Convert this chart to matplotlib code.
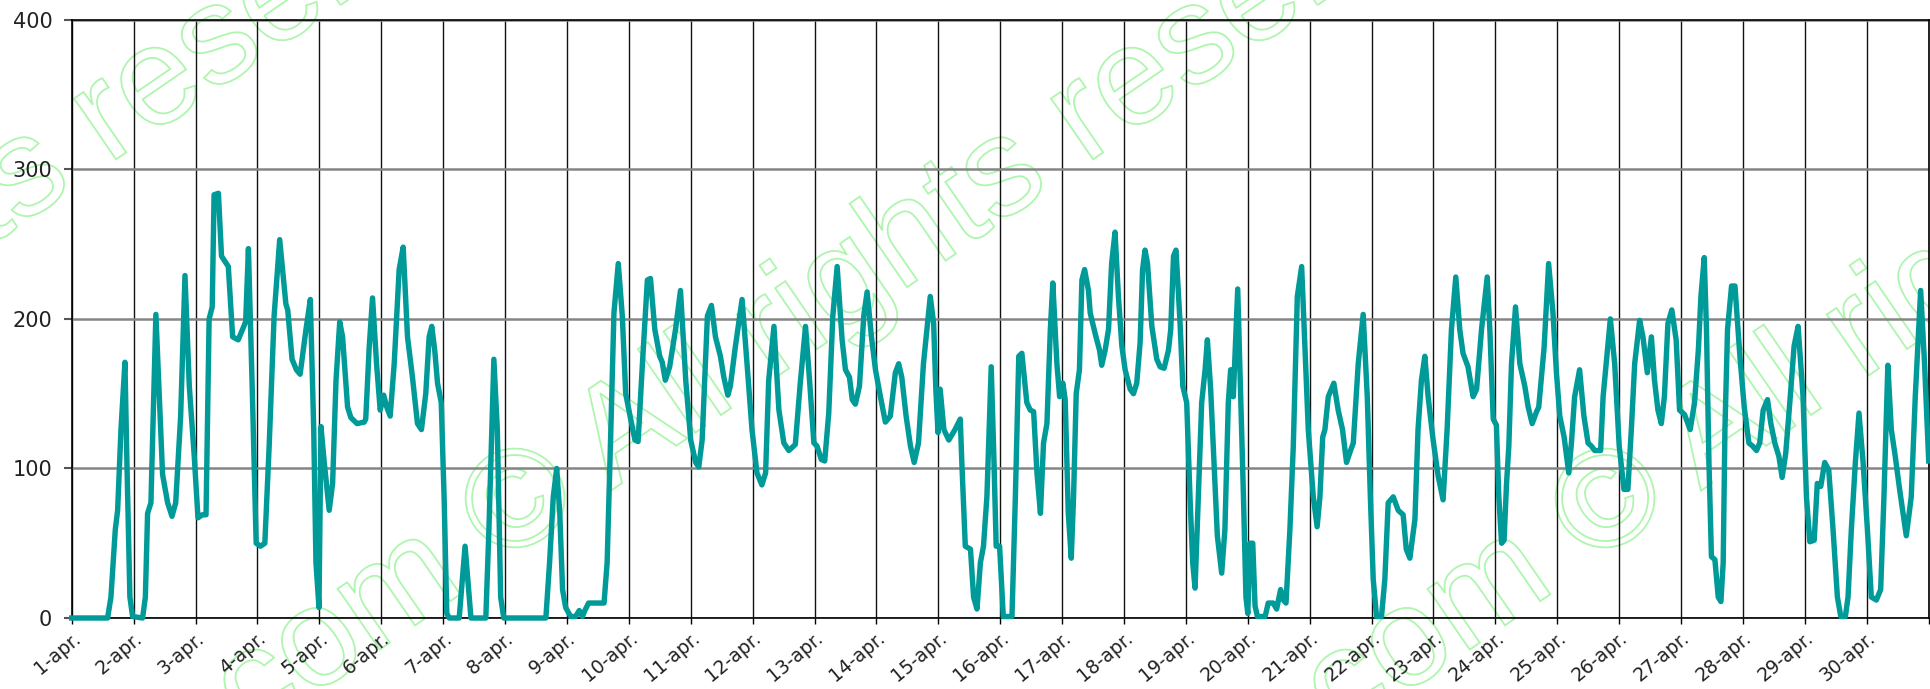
import matplotlib
matplotlib.use("Agg")
import matplotlib.pyplot as plt
from matplotlib.patches import PathPatch
from matplotlib.textpath import TextPath
from matplotlib.font_manager import FontProperties
from matplotlib.transforms import Affine2D, IdentityTransform

# curve vertices; t = days since 1 april 00:00
t_week1 = [0.00, 0.58, 0.634, 0.704, 0.742, 0.796, 0.86, 0.892, 0.94, 0.984,
           1.145, 1.19, 1.226, 1.28, 1.36, 1.468, 1.55, 1.62, 1.68, 1.76, 1.83, 1.90, 1.98,
           2.04, 2.11, 2.17, 2.22, 2.27, 2.30, 2.37, 2.42, 2.53, 2.60, 2.69, 2.76, 2.81, 2.855, 2.92, 2.98,
           3.05, 3.12, 3.19, 3.27, 3.36, 3.46, 3.49, 3.56, 3.63, 3.69, 3.785, 3.855, 3.91, 3.946, 3.995,
           4.027, 4.08, 4.16, 4.215, 4.27, 4.33, 4.376, 4.457, 4.51, 4.61, 4.726, 4.75, 4.806, 4.86, 4.925, 4.984,
           5.04, 5.09, 5.145, 5.21, 5.29, 5.355, 5.425, 5.505, 5.586, 5.65, 5.72, 5.774, 5.817, 5.865, 5.91, 5.97,
           6.016, 6.06, 6.10, 6.26, 6.355, 6.45, 6.69, 6.74, 6.82, 6.876, 6.93, 6.98]
v_week1 = [0, 0, 14, 59, 72, 126, 171, 104, 14, 1,
           0, 14, 70, 77, 203, 96, 77, 68, 77, 135, 229, 155, 108,
           67, 69, 69, 200, 208, 283, 284, 242, 235, 188, 186, 193, 198, 247, 148, 50,
           48, 50, 115, 202, 253, 210, 206, 173, 166, 163, 193, 213, 126, 37, 7,
           128, 104, 72, 90, 159, 198, 188, 141, 134, 130, 131, 133, 181, 214, 170, 139,
           149, 141, 135, 170, 233, 248, 188, 161, 130, 126, 150, 188, 195, 179, 157, 144,
           81, 3, 0, 0, 48, 0, 0, 59, 173, 126, 14, 0]

t_week2 = [7.66, 7.72, 7.78, 7.835, 7.885, 7.93, 7.98, 8.06, 8.14, 8.20, 8.25, 8.29, 8.35, 8.60, 8.65, 8.71, 8.76, 8.83, 8.895, 8.95,
           9.03, 9.10, 9.15, 9.22, 9.30, 9.35, 9.42, 9.50, 9.54, 9.59, 9.66, 9.755, 9.835, 9.92,
           10.00, 10.08, 10.13, 10.185, 10.27, 10.335, 10.40, 10.48, 10.535, 10.60, 10.64, 10.72, 10.83, 10.91, 10.99,
           11.07, 11.15, 11.21, 11.26, 11.345, 11.425, 11.505, 11.585, 11.69, 11.77, 11.855, 11.92, 11.99,
           12.04, 12.11, 12.165, 12.23, 12.296, 12.366, 12.446, 12.50, 12.565, 12.61, 12.66, 12.726, 12.796, 12.85, 12.92, 12.985,
           13.065, 13.145, 13.225, 13.306, 13.36, 13.41, 13.48, 13.55, 13.61, 13.68, 13.76, 13.87, 13.925, 13.96, 13.995]
v_week2 = [0, 37, 81, 100, 70, 19, 7, 1, 1, 5, 1, 5, 10, 10, 37, 126, 204, 237, 202, 150,
           133, 119, 118, 170, 226, 227, 193, 175, 171, 159, 168, 193, 219, 159,
           119, 104, 101, 119, 202, 209, 188, 175, 161, 149, 155, 181, 213, 170, 126,
           97, 89, 97, 159, 195, 139, 117, 112, 116, 157, 195, 159, 117,
           115, 106, 105, 137, 202, 235, 186, 166, 161, 146, 143, 155, 202, 218, 188, 166,
           148, 131, 135, 164, 170, 161, 135, 115, 104, 117, 170, 215, 197, 153, 124]

t_week3 = [14.03, 14.09, 14.17, 14.27, 14.355, 14.38, 14.436, 14.52, 14.57, 14.625, 14.68, 14.73, 14.785, 14.855, 14.9, 14.935, 14.99, 15.05,
           15.19, 15.245, 15.30, 15.35, 15.43, 15.486, 15.54, 15.594, 15.65, 15.70, 15.755, 15.81, 15.85, 15.916, 15.96,
           16.013, 16.05, 16.10, 16.148, 16.185, 16.228, 16.28, 16.32, 16.363, 16.426, 16.454, 16.535, 16.605, 16.64, 16.695, 16.75, 16.80, 16.855, 16.91, 16.965,
           17.018, 17.10, 17.153, 17.206, 17.26, 17.30, 17.34, 17.38, 17.45, 17.53, 17.583, 17.648, 17.718, 17.755, 17.80, 17.84, 17.906, 17.95,
           18.013, 18.066, 18.11, 18.148, 18.20, 18.255, 18.31, 18.347, 18.40, 18.454, 18.508, 18.578, 18.63, 18.685, 18.723, 18.766, 18.837, 18.886, 18.93, 18.97,
           19.0, 19.036, 19.08, 19.117, 19.155, 19.28, 19.33, 19.41, 19.466, 19.53, 19.574, 19.617, 19.68, 19.735, 19.80, 19.87, 19.923, 19.977,
           20.058, 20.12, 20.165, 20.21, 20.246, 20.30, 20.39, 20.46, 20.53, 20.595, 20.66, 20.704, 20.784, 20.864, 20.93, 20.98]
v_week3 = [153, 126, 119, 126, 133, 104, 48, 46, 14, 6, 37, 48, 81, 168, 104, 48, 48, 1,
           1, 81, 175, 177, 144, 139, 138, 97, 70, 117, 130, 193, 224, 170, 148,
           157, 146, 70, 40, 81, 150, 166, 226, 233, 219, 204, 190, 179, 169, 179, 193, 237, 258, 215, 182,
           166, 153, 150, 157, 184, 233, 246, 237, 195, 173, 168, 167, 179, 193, 242, 246, 197, 155,
           144, 81, 37, 20, 81, 144, 166, 186, 153, 104, 55, 30, 59, 144, 166, 148, 220, 148, 81, 14,
           3, 50, 50, 8, 1, 1, 10, 10, 6, 19, 12, 10, 59, 115, 215, 235, 181, 126,
           81, 61, 81, 121, 126, 148, 157, 139, 126, 104, 112, 117, 170, 203, 148, 81]

t_week4 = [21.026, 21.08, 21.16, 21.214, 21.268, 21.35, 21.43, 21.51, 21.56, 21.618, 21.70, 21.75, 21.805, 21.86, 21.913, 21.994,
           22.075, 22.155, 22.22, 22.29, 22.36, 22.424, 22.477, 22.557, 22.64, 22.696, 22.776, 22.868, 22.91, 22.965,
           23.016, 23.055, 23.10, 23.14, 23.18, 23.217, 23.26, 23.325, 23.395, 23.475, 23.53, 23.594, 23.665, 23.70, 23.787, 23.86, 23.93, 23.986,
           24.04, 24.11, 24.185, 24.228, 24.28, 24.36, 24.43, 24.497, 24.55, 24.605, 24.70, 24.74, 24.79, 24.857, 24.927,
           25.0, 25.077, 25.14, 25.196, 25.25, 25.33, 25.384, 25.454, 25.52, 25.57, 25.626, 25.68, 25.73, 25.787, 25.85, 25.92, 25.975,
           26.056, 26.147, 26.217, 26.28, 26.32, 26.374, 26.41, 26.45, 26.49, 26.546, 26.60, 26.643, 26.68, 26.708, 26.75, 26.815, 26.87, 26.95,
           27.02, 27.095, 27.154, 27.218, 27.27, 27.326, 27.396, 27.45, 27.514, 27.58, 27.632, 27.69, 27.756, 27.826, 27.89, 27.97,
           28.025, 28.08, 28.15, 28.20, 28.256, 28.32, 28.385, 28.455, 28.525, 28.58, 28.654, 28.697, 28.75, 28.815, 28.874, 28.94,
           29.01, 29.073, 29.154, 29.224, 29.277, 29.34, 29.396, 29.46, 29.53, 29.638, 29.718, 29.783, 29.87, 29.933, 30.0]
v_week4 = [26, 1, 1, 26, 77, 81, 72, 69, 46, 40, 66, 126, 159, 175, 148, 119,
           95, 79, 126, 193, 228, 193, 177, 168, 148, 153, 193, 228, 193, 133,
           129, 81, 50, 52, 90, 115, 170, 208, 170, 155, 141, 130, 138, 141, 181, 237, 204, 164,
           135, 121, 97, 117, 148, 166, 135, 117, 115, 112, 112, 148, 170, 200, 170,
           115, 86, 86, 126, 170, 199, 188, 164, 188, 159, 139, 130, 148, 197, 206, 186, 139,
           136, 126, 144, 180, 215, 241, 193, 104, 41, 39, 14, 11, 37, 126, 193, 222, 222, 175,
           141, 117, 115, 112, 117, 139, 146, 130, 117, 108, 94, 110, 144, 182, 195, 148,
           81, 51, 52, 90, 88, 104, 99, 59, 14, 1, 1, 14, 59, 104, 137, 104,
           59, 14, 12, 19, 81, 169, 126, 108, 86, 55, 81, 148, 219, 170, 105]

day_labels = [f"{d}-apr." for d in range(1, 31)]
y_ticks = [0, 100, 200, 300, 400]
watermark = ".com © All rights reserved"

W, H = 1931, 689


def add_watermark(fig, text, cx, cy, size=140, angle=34.5):
    # outlined text, positioned by the centre of its © sign (pixels, y from top)
    fp = FontProperties(family="Liberation Sans")
    full = TextPath((0, 0), text, size=size, prop=fp)
    head = TextPath((0, 0), text[:text.index("©") + 1], size=size, prop=fp)
    sym = TextPath((0, 0), "©", size=size, prop=fp).get_extents()
    x0 = head.get_extents().x1 - sym.width / 2
    y0 = (sym.y0 + sym.y1) / 2
    tr = Affine2D().translate(-x0, -y0).rotate_deg(angle).translate(cx, H - cy)
    patch = PathPatch(tr.transform_path(full), facecolor="none", edgecolor="#aef5ae",
                      lw=1.3, transform=IdentityTransform(), zorder=-5)
    fig.add_artist(patch)


plt.rcParams["font.family"] = "DejaVu Sans"
fig = plt.figure(figsize=(W / 100, H / 100), dpi=100)
fig.patch.set_facecolor("white")

for cx in (-462, 515, 1605):
    add_watermark(fig, watermark, cx, 498)

ax = fig.add_axes([71.7 / W, (H - 618) / H, 1857 / W, 598.2 / H])
ax.set_facecolor("none")

t = t_week1 + t_week2 + t_week3 + t_week4
v = v_week1 + v_week2 + v_week3 + v_week4
ax.plot(t, v, color="#009a98", lw=3.9, solid_joinstyle="round", clip_on=False, zorder=4)

ax.set_xlim(0, 30)
ax.set_ylim(0, 400)
ax.set_xticks(range(31))
ax.set_xticklabels(day_labels + [""], rotation=40, ha="right", va="top", rotation_mode="anchor")
ax.set_yticks(y_ticks)
ax.set_yticklabels([str(y) for y in y_ticks])

ax.xaxis.grid(True, color="#111111", lw=1.0)
ax.yaxis.grid(True, color="#858585", lw=1.8)
ax.set_axisbelow(True)

ax.tick_params(axis="y", length=6, width=1.5, color="#555555", pad=8, labelsize=15, labelcolor="#222222")
ax.tick_params(axis="x", length=4.5, width=1.0, color="black", pad=3, labelsize=13.5, labelcolor="#222222")
for side in ("left", "bottom", "top", "right"):
    ax.spines[side].set_color("black")
    ax.spines[side].set_linewidth(1.2)

fig.savefig("out.png", dpi=100)
